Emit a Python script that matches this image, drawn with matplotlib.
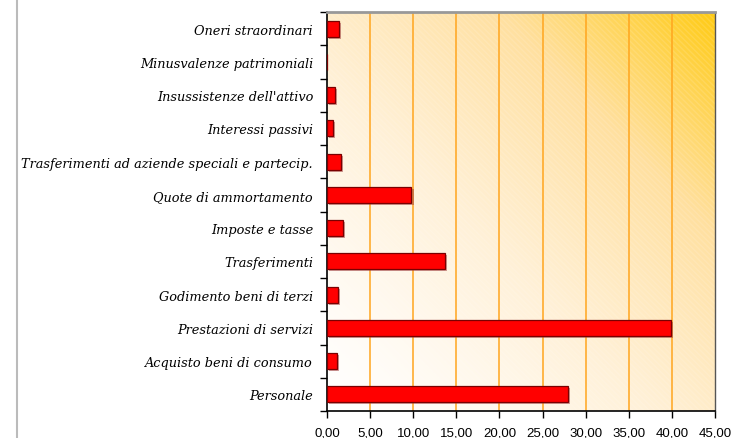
import matplotlib
matplotlib.use("Agg")
import matplotlib.pyplot as plt
import matplotlib.patheffects as pe
from matplotlib.colors import LinearSegmentedColormap
from matplotlib.lines import Line2D
from matplotlib.patches import Rectangle
from matplotlib.ticker import FuncFormatter, MultipleLocator
import numpy as np

categories = [
    "Oneri straordinari",
    "Minusvalenze patrimoniali",
    "Insussistenze dell'attivo",
    "Interessi passivi",
    "Trasferimenti ad aziende speciali e partecip.",
    "Quote di ammortamento",
    "Imposte e tasse",
    "Trasferimenti",
    "Godimento beni di terzi",
    "Prestazioni di servizi",
    "Acquisto beni di consumo",
    "Personale",
]
values = [1.39, 0.0, 0.93, 0.70, 1.67, 9.80, 1.86, 13.66, 1.28, 39.90, 1.12, 27.95]
x_max = 45

fig = plt.figure(figsize=(7.33, 4.39), dpi=100)
ax = fig.add_axes([327 / 733, 1 - 412 / 439, (715 - 327) / 733, (412 - 13) / 439])

# gradient background: white bottom-left -> gold top-right
n = len(categories)
gx, gy = np.meshgrid(np.linspace(0, 1, 300), np.linspace(0, 1, 200))
t = np.clip((gx + gy) / 2, 0, 1) ** 1.25
cmap = LinearSegmentedColormap.from_list(
    "gold", ["#FFFFFF", "#FFF1D8", "#FFE0A0", "#FFCB14"])
ax.imshow(t, cmap=cmap, extent=(0, x_max, n - 0.5, -0.5), origin="lower",
          aspect="auto", zorder=0, interpolation="bilinear")
ax.add_patch(Rectangle((0, -0.5), x_max, n, facecolor="none", edgecolor="white",
                       alpha=0.12, hatch="\\\\\\\\\\\\", lw=0, zorder=0.5))

ax.set_xlim(0, x_max)
ax.set_ylim(n - 0.5, -0.5)

for x in range(5, x_max, 5):
    ax.axvline(x, color="#FFA51E", lw=1.1, zorder=1)

y = np.arange(n)
bars = ax.barh(y, values, height=0.48, color="#FF0000", edgecolor="#7A0000",
               linewidth=0.9, zorder=3)
for b in bars:
    b.set_path_effects([pe.SimplePatchShadow(offset=(1.5, -1.5), shadow_rgbFace="#A04040",
                                             alpha=0.5), pe.Normal()])

ax.set_yticks(y)
ax.set_yticklabels(categories, fontfamily="DejaVu Serif", fontstyle="italic",
                   fontsize=9.25)
ax.set_yticks(np.arange(-0.5, n, 1), minor=True)
ax.tick_params(axis="y", which="major", length=0, pad=10)
ax.tick_params(axis="y", which="minor", length=5, width=1, color="black")

ax.xaxis.set_major_locator(MultipleLocator(5))
ax.xaxis.set_major_formatter(FuncFormatter(lambda v, p: f"{v:.2f}".replace(".", ",")))
ax.tick_params(axis="x", length=5, width=1, labelsize=9.5, pad=6)
for lab in ax.get_xticklabels():
    lab.set_fontfamily("Liberation Sans")

ax.spines["left"].set_color("black")
ax.spines["bottom"].set_color("black")
ax.spines["left"].set_linewidth(1.2)
ax.spines["bottom"].set_linewidth(1.2)
ax.spines["top"].set_color("#999999")
ax.spines["top"].set_linewidth(2)
ax.spines["right"].set_color("#555555")
ax.spines["right"].set_linewidth(1)

# chart area border on the left
fig.add_artist(Line2D([16.5 / 733, 16.5 / 733], [0, 1], transform=fig.transFigure,
                      color="#BBBBBB", lw=1.5))

fig.savefig("out.png", dpi=100)
